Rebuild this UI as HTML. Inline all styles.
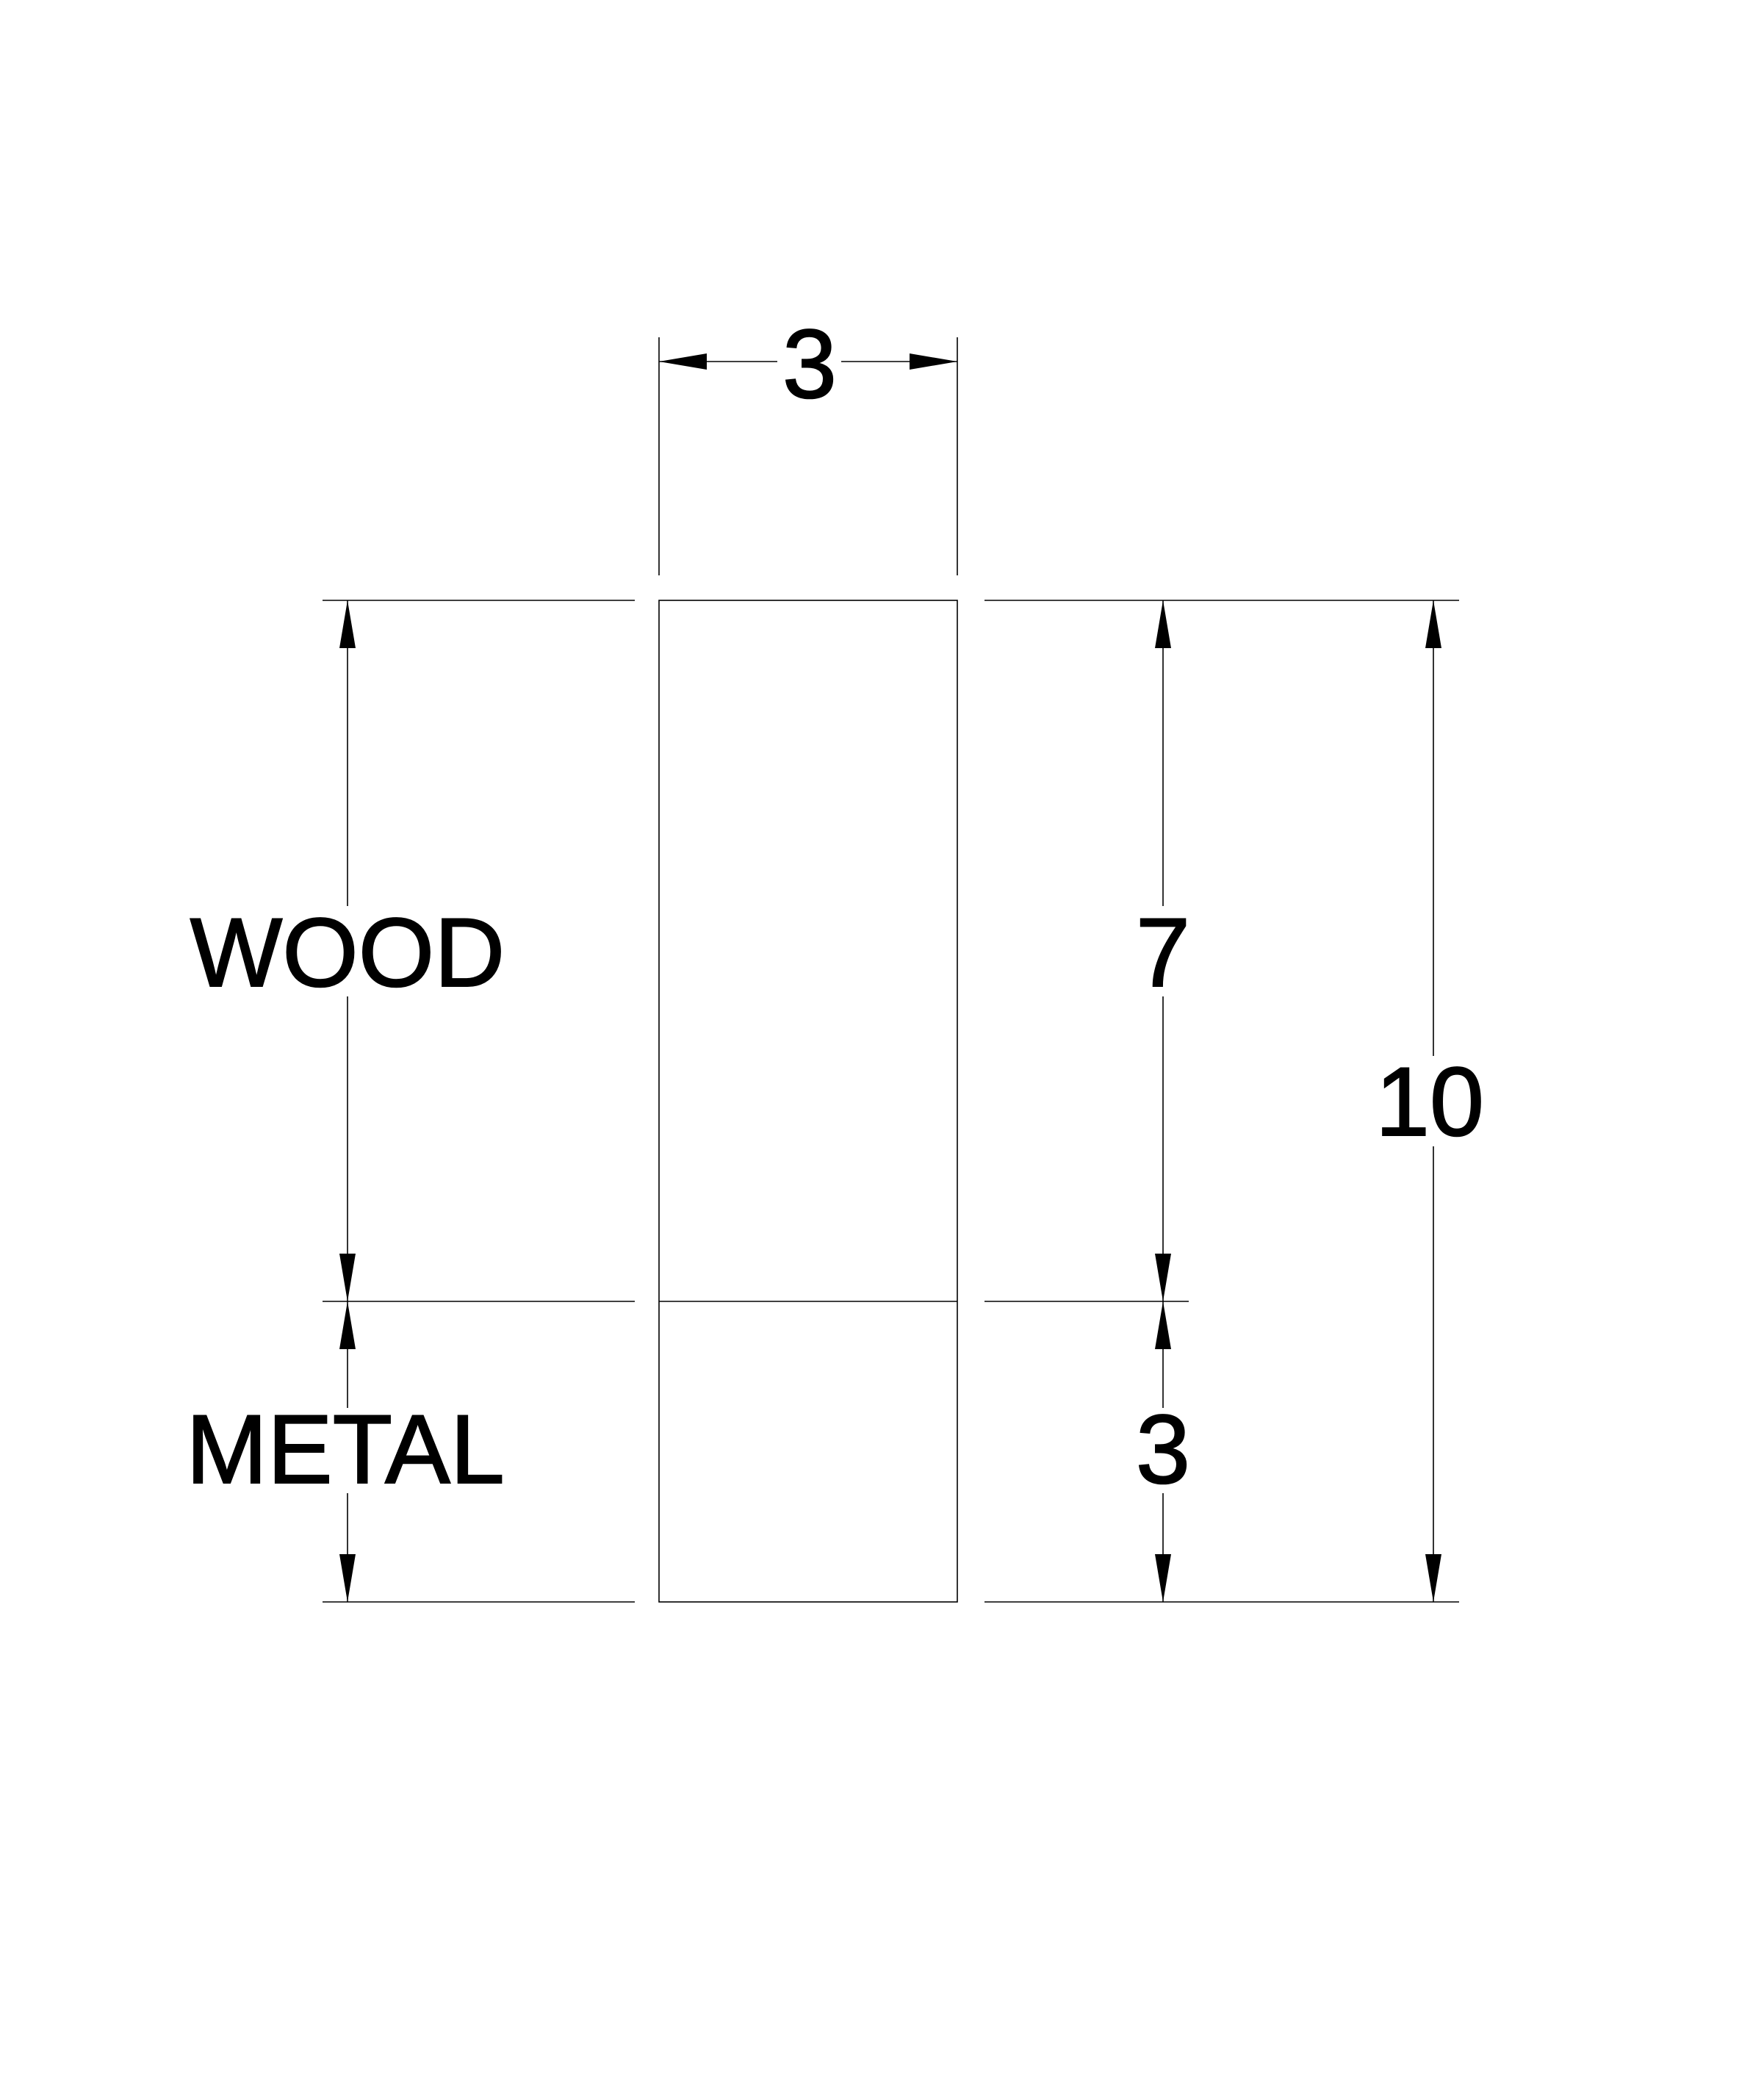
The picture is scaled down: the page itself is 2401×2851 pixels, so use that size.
<!DOCTYPE html>
<html><head><style>html,body{margin:0;padding:0;background:#fff}svg{display:block}</style></head>
<body>
<svg width="2401" height="2851" viewBox="0 0 2401 2851" xmlns="http://www.w3.org/2000/svg">
<g stroke="#000" stroke-width="1.6" fill="none">
<rect x="897" y="817" width="406" height="1363"/>
<line x1="897" y1="1771" x2="1303" y2="1771"/>
<line x1="897" y1="459" x2="897" y2="783"/>
<line x1="1303" y1="459" x2="1303" y2="783"/>
<line x1="897" y1="492" x2="1058" y2="492"/>
<line x1="1145" y1="492" x2="1303" y2="492"/>
<line x1="439" y1="817" x2="864" y2="817"/>
<line x1="439" y1="1771" x2="864" y2="1771"/>
<line x1="439" y1="2180" x2="864" y2="2180"/>
<line x1="1340" y1="817" x2="1986" y2="817"/>
<line x1="1340" y1="1771" x2="1618" y2="1771"/>
<line x1="1340" y1="2180" x2="1986" y2="2180"/>
<line x1="473" y1="817" x2="473" y2="1233"/>
<line x1="473" y1="1356" x2="473" y2="1916"/>
<line x1="473" y1="2032" x2="473" y2="2180"/>
<line x1="1583" y1="817" x2="1583" y2="1233"/>
<line x1="1583" y1="1356" x2="1583" y2="1916"/>
<line x1="1583" y1="2032" x2="1583" y2="2180"/>
<line x1="1951" y1="817" x2="1951" y2="1437"/>
<line x1="1951" y1="1560" x2="1951" y2="2180"/>
</g>
<g fill="#000">
<polygon points="897,492 962,481 962,503"/>
<polygon points="1303,492 1238,481 1238,503"/>
<polygon points="473,817 462,882 484,882"/>
<polygon points="473,1771 462,1706 484,1706"/>
<polygon points="473,1771 462,1836 484,1836"/>
<polygon points="473,2180 462,2115 484,2115"/>
<polygon points="1583,817 1572,882 1594,882"/>
<polygon points="1583,1771 1572,1706 1594,1706"/>
<polygon points="1583,1771 1572,1836 1594,1836"/>
<polygon points="1583,2180 1572,2115 1594,2115"/>
<polygon points="1951,817 1940,882 1962,882"/>
<polygon points="1951,2180 1940,2115 1962,2115"/>
</g>
<g font-family="Liberation Sans, Arial, sans-serif" font-size="133" fill="#000" stroke="#000" stroke-width="2" text-anchor="middle">
<text x="1102" y="541">3</text>
<text x="473" y="1342">WOOD</text>
<text x="470" y="2018">METAL</text>
<text x="1583" y="1342">7</text>
<text x="1583" y="2018">3</text>
<text x="1946" y="1545">10</text>
</g>
</svg>
</body></html>
